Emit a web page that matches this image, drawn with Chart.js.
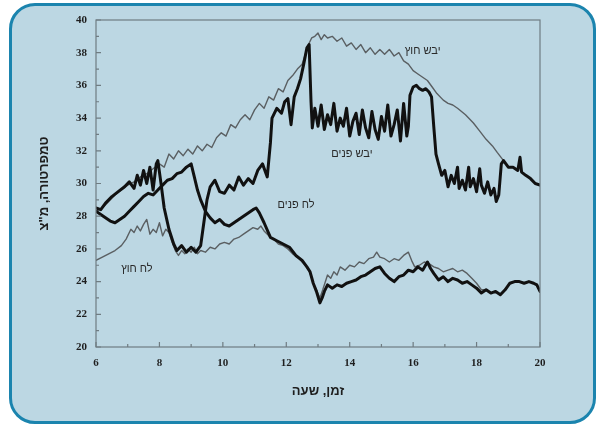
<!DOCTYPE html>
<html lang="he">
<head>
<meta charset="utf-8">
<script src="https://cdn.jsdelivr.net/npm/chart.js@4.4.1/dist/chart.umd.min.js"></script>
<style>
  html, body { margin: 0; padding: 0; background: #ffffff; }
  #frame {
    position: absolute; left: 9px; top: 3px; width: 587px; height: 421px;
    box-sizing: border-box; border: 3px solid #1b84ae; border-radius: 26px;
    background: #bcd7e3;
  }
  #myChart { position: absolute; left: 0; top: 0; }
</style>
</head>
<body>
<div id="frame"></div>
<canvas id="myChart" width="597" height="426"></canvas>
<script>
// [hour, temp] pairs
const dryOut = [[6.0,28.3],[6.2,28.5],[6.4,28.9],[6.6,29.3],[6.8,29.6],[7.0,29.9],[7.2,30.1],[7.4,30.4],[7.6,30.6],[7.8,30.9],[8.0,31.2],[8.15,31.0],[8.3,31.8],[8.45,31.5],[8.6,32.0],[8.75,31.7],[8.9,32.1],[9.05,31.8],[9.2,32.3],[9.35,32.0],[9.5,32.4],[9.65,32.2],[9.8,32.8],[9.95,33.1],[10.1,32.9],[10.25,33.6],[10.4,33.4],[10.55,33.9],[10.7,34.2],[10.85,33.9],[11.0,34.5],[11.15,34.9],[11.3,34.6],[11.45,35.3],[11.6,35.1],[11.75,35.8],[11.9,35.6],[12.05,36.3],[12.2,36.6],[12.35,37.0],[12.5,37.3],[12.6,37.9],[12.7,38.5],[12.8,38.9],[12.9,39.0],[13.0,39.2],[13.1,38.8],[13.2,39.1],[13.3,38.9],[13.45,39.0],[13.6,38.7],[13.75,38.9],[13.9,38.4],[14.05,38.6],[14.2,38.2],[14.35,38.5],[14.5,38.0],[14.65,38.3],[14.8,37.9],[14.95,38.2],[15.1,37.9],[15.25,38.2],[15.4,37.8],[15.55,38.0],[15.7,37.5],[15.85,37.3],[16.0,36.9],[16.15,36.7],[16.3,36.5],[16.45,36.3],[16.6,35.9],[16.75,35.5],[16.95,35.1],[17.1,34.9],[17.25,34.8],[17.4,34.6],[17.65,34.2],[17.9,33.7],[18.1,33.2],[18.3,32.7],[18.5,32.3],[18.65,31.9],[18.85,31.4],[19.0,31.0],[19.15,31.0],[19.3,30.8],[19.37,31.6],[19.42,30.7],[19.55,30.5],[19.7,30.3],[19.85,30.0],[20.0,29.9]];

const dryIn = [[6.0,28.5],[6.15,28.4],[6.3,28.8],[6.5,29.2],[6.7,29.5],[6.9,29.8],[7.05,30.1],[7.2,29.7],[7.3,30.5],[7.4,29.9],[7.5,30.8],[7.6,30.0],[7.7,31.0],[7.8,29.6],[7.9,31.2],[7.95,31.4],[8.05,30.0],[8.15,28.5],[8.3,27.2],[8.45,26.3],[8.55,25.9],[8.7,26.2],[8.85,25.8],[9.0,26.1],[9.15,25.8],[9.3,26.2],[9.4,27.6],[9.5,29.0],[9.6,29.8],[9.75,30.2],[9.9,29.5],[10.05,29.4],[10.2,29.9],[10.35,29.6],[10.5,30.4],[10.65,29.9],[10.8,30.3],[10.95,30.0],[11.1,30.8],[11.25,31.2],[11.4,30.4],[11.5,32.5],[11.55,34.0],[11.7,34.6],[11.85,34.3],[11.95,35.0],[12.05,35.2],[12.15,33.6],[12.25,35.3],[12.35,35.8],[12.45,36.4],[12.55,37.3],[12.65,38.3],[12.72,38.5],[12.78,35.0],[12.82,33.4],[12.9,34.6],[13.0,33.5],[13.1,34.8],[13.2,33.3],[13.3,34.2],[13.4,33.6],[13.5,34.9],[13.6,33.2],[13.7,34.0],[13.8,33.5],[13.9,34.6],[14.0,32.9],[14.1,33.8],[14.2,34.3],[14.3,33.0],[14.4,34.5],[14.5,33.4],[14.6,32.8],[14.7,34.4],[14.8,33.3],[14.9,32.7],[15.0,34.1],[15.1,33.2],[15.2,34.8],[15.3,32.9],[15.4,33.6],[15.5,34.5],[15.6,32.6],[15.7,34.9],[15.8,32.9],[15.85,33.5],[15.9,35.4],[16.0,35.9],[16.1,36.0],[16.2,35.8],[16.3,35.7],[16.4,35.8],[16.5,35.6],[16.58,35.3],[16.65,33.5],[16.72,31.8],[16.8,31.2],[16.9,30.5],[17.0,30.8],[17.1,29.8],[17.2,30.5],[17.3,30.0],[17.4,31.0],[17.45,29.7],[17.55,30.2],[17.65,29.6],[17.75,31.0],[17.8,29.8],[17.9,30.3],[18.0,29.5],[18.1,30.9],[18.15,29.9],[18.25,29.4],[18.35,30.1],[18.45,29.3],[18.55,29.7],[18.62,28.9],[18.7,29.3],[18.78,31.2],[18.85,31.4],[19.0,31.0],[19.15,31.0],[19.3,30.8],[19.37,31.6],[19.42,30.7],[19.55,30.5],[19.7,30.3],[19.85,30.0],[20.0,29.9]];

const wetIn = [[6.0,28.3],[6.15,28.1],[6.3,27.9],[6.45,27.7],[6.6,27.6],[6.75,27.8],[6.9,28.0],[7.05,28.3],[7.2,28.6],[7.35,28.9],[7.5,29.2],[7.65,29.4],[7.8,29.3],[7.95,29.6],[8.1,29.9],[8.25,30.2],[8.4,30.3],[8.55,30.6],[8.7,30.7],[8.85,31.0],[9.0,31.2],[9.1,30.4],[9.2,29.6],[9.3,29.0],[9.45,28.3],[9.6,27.9],[9.75,27.6],[9.9,27.8],[10.05,27.5],[10.2,27.4],[10.35,27.6],[10.5,27.8],[10.65,28.0],[10.8,28.2],[10.95,28.4],[11.05,28.5],[11.15,28.2],[11.3,27.6],[11.5,26.7],[11.7,26.5],[11.9,26.3],[12.1,26.1],[12.3,25.6],[12.5,25.3],[12.65,24.9],[12.75,24.6],[12.85,23.9],[12.95,23.4],[13.06,22.7],[13.13,23.0],[13.2,23.4],[13.3,23.8],[13.45,23.6],[13.6,23.8],[13.75,23.7],[13.9,23.9],[14.05,24.0],[14.2,24.1],[14.35,24.3],[14.5,24.4],[14.65,24.6],[14.8,24.8],[14.95,24.9],[15.1,24.5],[15.25,24.2],[15.4,24.0],[15.55,24.3],[15.7,24.4],[15.85,24.7],[16.0,24.6],[16.15,24.9],[16.3,24.7],[16.45,25.2],[16.55,24.8],[16.65,24.5],[16.8,24.1],[16.95,24.3],[17.1,24.0],[17.25,24.2],[17.4,24.1],[17.55,23.9],[17.7,24.0],[17.85,23.8],[18.0,23.6],[18.15,23.3],[18.3,23.5],[18.45,23.3],[18.6,23.4],[18.75,23.2],[18.9,23.5],[19.05,23.9],[19.2,24.0],[19.35,24.0],[19.5,23.9],[19.65,24.0],[19.8,23.9],[19.9,23.8],[20.0,23.4]];

const wetOut = [[6.0,25.3],[6.2,25.5],[6.4,25.7],[6.6,25.9],[6.8,26.2],[6.95,26.6],[7.1,27.2],[7.2,27.0],[7.3,27.4],[7.4,27.1],[7.5,27.5],[7.6,27.8],[7.7,26.9],[7.8,27.2],[7.9,27.0],[8.0,27.6],[8.1,26.8],[8.2,27.2],[8.3,27.0],[8.4,26.4],[8.5,25.9],[8.6,25.6],[8.7,25.9],[8.8,25.7],[8.9,26.0],[9.0,25.8],[9.1,26.1],[9.2,25.7],[9.3,25.9],[9.45,25.8],[9.6,26.1],[9.75,26.0],[9.9,26.3],[10.05,26.4],[10.2,26.3],[10.35,26.6],[10.5,26.7],[10.65,26.9],[10.8,27.1],[10.95,27.3],[11.1,27.2],[11.2,27.4],[11.3,27.1],[11.45,26.8],[11.6,26.6],[11.75,26.3],[11.9,26.2],[12.05,26.0],[12.2,25.7],[12.35,25.5],[12.5,25.2],[12.65,24.9],[12.75,24.5],[12.85,23.9],[12.95,23.5],[13.06,23.0],[13.15,23.5],[13.3,24.4],[13.4,24.2],[13.5,24.6],[13.6,24.4],[13.7,24.9],[13.85,24.7],[14.0,25.0],[14.15,24.9],[14.3,25.2],[14.45,25.1],[14.6,25.4],[14.75,25.5],[14.85,25.8],[14.95,25.5],[15.1,25.4],[15.25,25.2],[15.4,25.4],[15.55,25.3],[15.7,25.6],[15.85,25.8],[15.95,25.3],[16.05,24.9],[16.2,25.0],[16.35,25.2],[16.5,25.1],[16.65,24.9],[16.8,24.8],[16.95,24.6],[17.1,24.7],[17.25,24.8],[17.4,24.6],[17.55,24.7],[17.7,24.5],[17.85,24.2],[18.0,23.9],[18.15,23.5],[18.3,23.5],[18.45,23.3],[18.6,23.4],[18.75,23.2],[18.9,23.5],[19.05,23.9],[19.2,24.0],[19.35,24.0],[19.5,23.9],[19.65,24.0],[19.8,23.9],[19.9,23.8],[20.0,23.4]];

const xTicks = [6, 7, 8, 9, 10, 11, 12, 13, 14, 15, 16, 17, 18, 19, 20];
const yTicks = [20, 21, 22, 23, 24, 25, 26, 27, 28, 29, 30, 31, 32, 33, 34, 35, 36, 37, 38, 39, 40];

// curve labels: [text, hour, temp]
const curveLabels = [
  ["יבש חוץ", 16.3, 38.1],
  ["יבש פנים", 14.07, 31.8],
  ["לח פנים", 12.31, 28.7],
  ["לח חוץ", 7.29, 24.8]
];

const xTitle = "זמן, שעה";
const yTitle = "טמפרטורה, מ\"צ";

function toPts(arr) {
  return arr.map(function (p) { return { x: p[0], y: p[1] }; });
}

var tickFont = { family: "'Liberation Serif', 'DejaVu Serif', serif", size: 11, weight: "bold" };
var titleFont = { family: "'Liberation Sans', 'DejaVu Sans', sans-serif", size: 13, weight: "bold" };

// inward tick marks, plot box and the curve labels
var extrasPlugin = {
  id: "extras",
  afterDraw: function (chart) {
    var ctx = chart.ctx;
    var a = chart.chartArea;
    var x = chart.scales.x, y = chart.scales.y;
    ctx.save();
    ctx.strokeStyle = "#6f7c82";
    ctx.lineWidth = 1.2;
    ctx.strokeRect(a.left, a.top, a.right - a.left, a.bottom - a.top);
    ctx.beginPath();
    xTicks.forEach(function (v) {
      var px = x.getPixelForValue(v);
      var len = v % 2 === 0 ? 5 : 3;
      ctx.moveTo(px, a.bottom);
      ctx.lineTo(px, a.bottom - len);
    });
    yTicks.forEach(function (v) {
      var py = y.getPixelForValue(v);
      var len = v % 2 === 0 ? 5 : 3;
      ctx.moveTo(a.left, py);
      ctx.lineTo(a.left + len, py);
    });
    ctx.stroke();

    ctx.fillStyle = "#2a2a2a";
    ctx.font = "11px 'Liberation Sans', 'DejaVu Sans', sans-serif";
    ctx.textAlign = "center";
    ctx.textBaseline = "middle";
    curveLabels.forEach(function (l) {
      ctx.fillText(l[0], x.getPixelForValue(l[1]), y.getPixelForValue(l[2]));
    });
    ctx.restore();
  }
};

var ctx = document.getElementById("myChart");
var chart = new Chart(ctx, {
  type: "line",
  data: {
    datasets: [
      { label: "יבש פנים", data: toPts(dryIn), borderColor: "#111111", borderWidth: 3 },
      { label: "לח פנים", data: toPts(wetIn), borderColor: "#111111", borderWidth: 3 },
      { label: "יבש חוץ", data: toPts(dryOut), borderColor: "#5a5f62", borderWidth: 1.4 },
      { label: "לח חוץ", data: toPts(wetOut), borderColor: "#5a5f62", borderWidth: 1.4 }
    ]
  },
  options: {
    responsive: false,
    animation: false,
    layout: { padding: { left: 10, right: 57, top: 20, bottom: 19 } },
    elements: {
      point: { radius: 0 },
      line: { tension: 0, borderJoinStyle: "round", borderCapStyle: "round" }
    },
    plugins: {
      legend: { display: false },
      tooltip: { enabled: false }
    },
    scales: {
      x: {
        type: "linear",
        min: 6,
        max: 20,
        ticks: { stepSize: 2, padding: 10, color: "#1e1e1e", font: tickFont, maxRotation: 0 },
        grid: { display: false, drawTicks: false },
        border: { display: false },
        title: { display: true, text: xTitle, color: "#1e1e1e", font: titleFont, padding: { top: 0, bottom: 8 } },
        afterFit: function (s) { s.height = 60; }
      },
      y: {
        min: 20,
        max: 40,
        ticks: { stepSize: 2, padding: 9, color: "#1e1e1e", font: tickFont },
        grid: { display: false, drawTicks: false },
        border: { display: false },
        title: { display: true, text: yTitle, color: "#1e1e1e", font: titleFont, padding: { top: 27, bottom: 0 } },
        afterFit: function (s) { s.width = 86; }
      }
    }
  },
  plugins: [extrasPlugin]
});
</script>
</body>
</html>
